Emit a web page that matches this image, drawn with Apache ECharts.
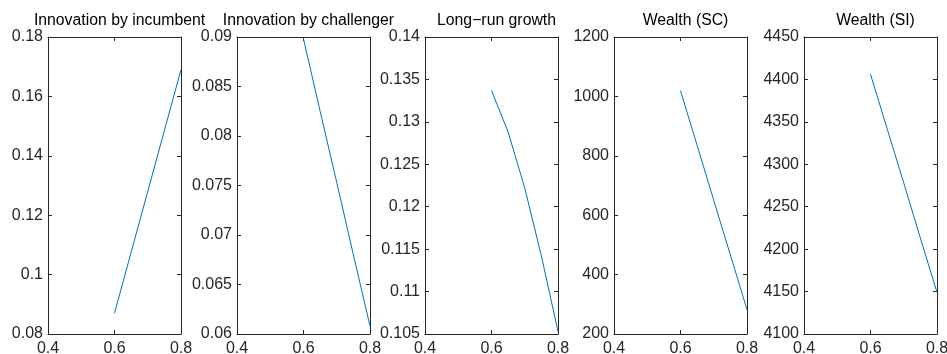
<!DOCTYPE html>
<html>
<head>
<meta charset="utf-8">
<script src="https://cdn.jsdelivr.net/npm/echarts@6/dist/echarts.min.js"></script>
<style>
  html, body { margin: 0; padding: 0; background: #fff; }
  #chart { width: 947px; height: 354px; }
</style>
</head>
<body>
<div id="chart"></div>
<script>
// x values shared by every panel
const xs = [0.6, 0.65, 0.7, 0.75, 0.8];

const titles = ['Innovation by incumbent', 'Innovation by challenger', 'Long\u2212run growth', 'Wealth (SC)', 'Wealth (SI)'];

const incumbent = [0.087, 0.1075, 0.128, 0.1485, 0.169];
const challenger = [0.0898, 0.0825, 0.0753, 0.068, 0.0608];
const growth = [0.1337, 0.1288, 0.1222, 0.1142, 0.1053];
const wealthSC = [1019, 835, 650, 466, 282];
const wealthSI = [4406, 4342, 4278, 4213, 4149];

const yRanges = [
  [0.08, 0.18, 0.02],
  [0.06, 0.09, 0.005],
  [0.105, 0.14, 0.005],
  [200, 1200, 200],
  [4100, 4450, 50]
];

const panels = [incumbent, challenger, growth, wealthSC, wealthSI];

const lefts = [48, 237, 425, 614, 804];
const W = 133, TOP = 37, H = 297;
const ink = '#262626';
const font = '"Liberation Sans", Arial, sans-serif';

// plain number, no thousands separator
const fmt = v => String(+v.toFixed(4));

let grid = [], xAxis = [], yAxis = [], series = [], title = [];

panels.forEach((vals, i) => {
  // keep the plot box where it is even if the bottom labels get clipped
  grid.push({ left: lefts[i], top: TOP, width: W, height: H, show: false, containLabel: false, outerBoundsMode: 'none' });
  const [mn, mx, step] = yRanges[i];
  const tick = { show: true, inside: true, length: 4, lineStyle: { color: ink, width: 1 } };
  const line = { show: true, onZero: false, lineStyle: { color: ink, width: 1 } };
  // bottom x
  xAxis.push({
    type: 'value', gridIndex: i, position: 'bottom', min: 0.4, max: 0.8, interval: 0.2,
    axisLine: line, axisTick: tick, splitLine: { show: false },
    axisLabel: { color: ink, fontSize: 16, fontFamily: font, margin: 7, formatter: fmt, showMinLabel: true, showMaxLabel: true }
  });
  // top mirror
  xAxis.push({
    type: 'value', gridIndex: i, position: 'top', min: 0.4, max: 0.8, interval: 0.2,
    axisLine: line, axisTick: tick, splitLine: { show: false }, axisLabel: { show: false }
  });
  yAxis.push({
    type: 'value', gridIndex: i, position: 'left', min: mn, max: mx, interval: step,
    axisLine: line, axisTick: tick, splitLine: { show: false },
    axisLabel: { color: ink, fontSize: 16, fontFamily: font, margin: 5, formatter: fmt, showMinLabel: true, showMaxLabel: true }
  });
  yAxis.push({
    type: 'value', gridIndex: i, position: 'right', min: mn, max: mx, interval: step,
    axisLine: line, axisTick: tick, splitLine: { show: false }, axisLabel: { show: false }
  });
  series.push({
    type: 'line', xAxisIndex: i * 2, yAxisIndex: i * 2,
    data: xs.map((x, k) => [x, vals[k]]),
    showSymbol: false, symbol: 'none', animation: false,
    lineStyle: { color: '#0072BD', width: 1 }
  });
  title.push({
    text: titles[i], left: lefts[i] + W / 2, top: 8, textAlign: 'center',
    textStyle: { color: '#000', fontSize: 15.8, fontWeight: 'normal', fontFamily: font }
  });
});

const chart = echarts.init(document.getElementById('chart'), null, { renderer: 'canvas' });
chart.setOption({
  backgroundColor: '#fff',
  animation: false,
  title, grid, xAxis, yAxis, series
});
</script>
</body>
</html>
